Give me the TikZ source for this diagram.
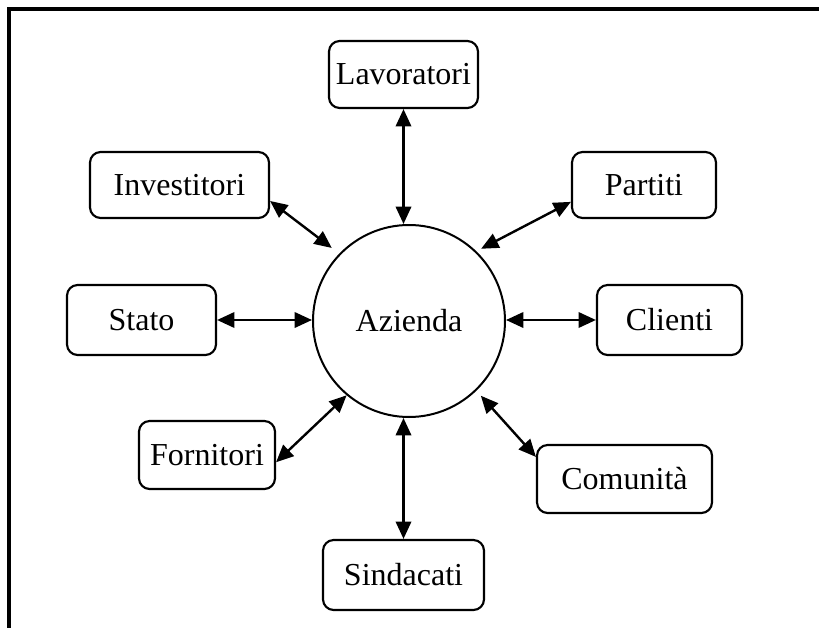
\documentclass[tikz,border=0pt]{standalone}
\usepackage{fontspec}
\setmainfont{Liberation Serif}
\usetikzlibrary{arrows.meta,calc}
\newlength\pxu
\setlength\pxu{0.75pt}
\begin{document}
\begin{tikzpicture}[x=0.75pt,y=-0.75pt,
  label font/.style={font=\fontsize{24}{28}\selectfont},
  party/.style={draw, line width=1.6pt, rounded corners=8pt, inner sep=0pt, label font},
  hub/.style={draw, circle, line width=1.5pt, minimum size=192*\pxu, inner sep=0pt, label font},
  link/.style={line width=1.8pt,
    {Triangle[length=13pt,width=11.5pt]}-{Triangle[length=13pt,width=11.5pt]}}
]
\useasboundingbox (0,0) rectangle (819,628);
% page frame (top and left edges)
\draw[line width=2.3pt] (9,628) -- (9,9) -- (819,9);

% central company
\node[hub] (az) at (409,321) {Azienda};

% stakeholders
\node[party, minimum width=149*\pxu, minimum height=67*\pxu] (lav) at (403.5,74.5) {Lavoratori};
\node[party, minimum width=179*\pxu, minimum height=66*\pxu] (inv) at (179.5,185) {Investitori};
\node[party, minimum width=144*\pxu, minimum height=66*\pxu] (par) at (644,185) {Partiti};
\node[party, minimum width=149*\pxu, minimum height=70*\pxu] (sta) at (141.5,320) {Stato};
\node[party, minimum width=145*\pxu, minimum height=70*\pxu] (cli) at (669.5,320) {Clienti};
\node[party, minimum width=136*\pxu, minimum height=68*\pxu] (for) at (207,455) {Fornitori};
\node[party, minimum width=175*\pxu, minimum height=68*\pxu] (com) at (624.5,479) {Comunità};
\node[party, minimum width=161*\pxu, minimum height=70*\pxu] (sin) at (403.5,575) {Sindacati};

% two-way relations
\draw[link] (lav.south) -- (lav.south |- az.north);
\draw[link] (sin.north) -- (sin.north |- az.south);
\draw[link] (sta.east) -- (sta.east -| az.west);
\draw[link] (cli.west) -- (cli.west -| az.east);
\draw[link, shorten >=7pt] (inv.-10.7) -- (az.136.4);
\draw[link, shorten >=4pt] (par.193.9) -- (az.46.5);
\draw[link] (for.-6.7) -- (az.230.5);
\draw[link, shorten >=5pt] (com.166.4) -- (az.-46);
\end{tikzpicture}
\end{document}
